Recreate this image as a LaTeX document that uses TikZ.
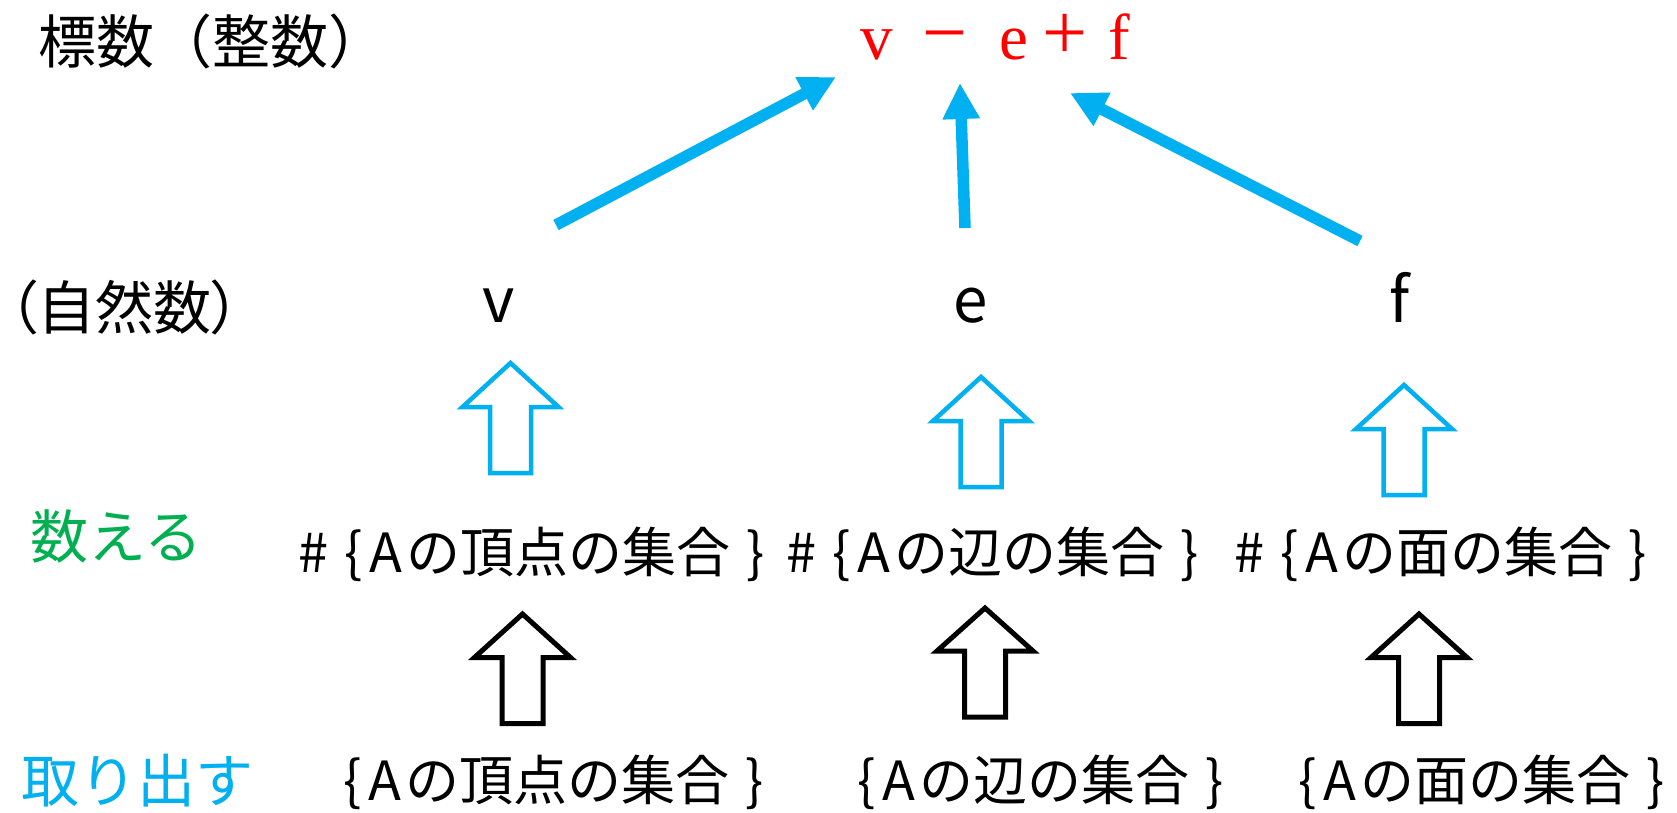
\documentclass[tikz,border=0pt]{standalone}
\usepackage{fontspec}
\newfontfamily\jpfont{Noto Sans CJK JP}
\newfontfamily\jppalt{Noto Sans CJK JP}[RawFeature=+palt]
\newfontfamily\redserif{Liberation Serif}
\usetikzlibrary{arrows.meta}
\definecolor{skyb}{HTML}{00B0F0}
\definecolor{grn}{HTML}{00B050}
\newcommand\hollowup[5]{% style, cx, tip, base, bottom
  \draw[#1] ({#2-20.5},#5) -- ({#2-20.5},#4) -- ({#2-48},#4) -- (#2,#3)
    -- ({#2+48},#4) -- ({#2+20.5},#4) -- ({#2+20.5},#5) -- cycle;}
\newcommand\setof[1]{\{\hspace{7pt}A\hspace{4pt}#1\hspace{16pt}\}}
\newcommand\numof[1]{\#\hspace{16pt}\setof{#1}}
\newcommand\bigop[1]{{\fontsize{80}{80}\selectfont #1}}
\begin{document}
\begin{tikzpicture}[x=1pt,y=-1pt,
  lbl/.style={inner sep=0pt, font=\jpfont\fontsize{58}{70}\selectfont},
  setlbl/.style={inner sep=0pt, font=\jpfont\fontsize{54}{64}\selectfont},
  varlbl/.style={inner sep=0pt, font=\jpfont\fontsize{62}{74}\selectfont},
  formula/.style={inner sep=0pt, text=red, font=\redserif\fontsize{65}{78}\selectfont},
  bigarrow/.style={draw=skyb, line width=11.5pt, -{Triangle[length=36pt,width=35pt,fill=skyb]}},
  hollowb/.style={draw=skyb, line width=4.5pt, line join=miter},
  hollowk/.style={draw=black, line width=5pt, line join=miter}]
\useasboundingbox (0,0) rectangle (1677,813);

% left labels
\node[lbl, anchor=base west] (title) at (38,64) {標数（整数）};
\node[lbl, font=\jppalt\fontsize{58}{70}\selectfont, anchor=base west] (nat) at (8,329) {（自然数）};
\node[lbl, anchor=base west, text=grn] (count) at (30,558) {数える};
\node[lbl, anchor=base west, text=skyb] (extract) at (21,802) {取り出す};

% formula
\node[formula, anchor=base west] (f0) at (860,60)
  {v\hspace{30pt}\bigop{−}\hspace{32pt}e\hspace{14pt}\bigop{+}\hspace{21pt}f};

% variables
\node[varlbl, anchor=base] (v) at (499,322) {v};
\node[varlbl, anchor=base] (e) at (971,322) {e};
\node[varlbl, anchor=base] (f) at (1400,322) {f};

% counted sets
\node[setlbl, anchor=base west] (cv) at (298,572) {\numof{の頂点の集合}};
\node[setlbl, anchor=base west] (ce) at (786,572) {\numof{の辺の集合}};
\node[setlbl, anchor=base west] (cf) at (1234,572) {\numof{の面の集合}};

% sets
\node[setlbl, anchor=base west] (sv) at (343,800) {\setof{の頂点の集合}};
\node[setlbl, anchor=base west] (se) at (857,800) {\setof{の辺の集合}};
\node[setlbl, anchor=base west] (sf) at (1298,800) {\setof{の面の集合}};

% thick arrows
\coordinate (av) at (556,225);
\coordinate (ae) at (965,228);
\coordinate (af) at (1360,241);
\coordinate (tv) at (836,77);
\coordinate (te) at (960,83);
\coordinate (tf) at (1070,93);
\draw[bigarrow] (av) -- (tv);
\draw[bigarrow] (ae) -- (te);
\draw[bigarrow] (af) -- (tf);

% hollow arrows
\hollowup{hollowb}{510.5}{363}{407}{473}
\hollowup{hollowb}{981}{377}{421}{487}
\hollowup{hollowb}{1404}{385}{429}{495}
\hollowup{hollowk}{522.5}{614}{657.5}{723.5}
\hollowup{hollowk}{985}{608}{651}{717}
\hollowup{hollowk}{1419}{614}{657.5}{723.5}
\end{tikzpicture}
\end{document}
